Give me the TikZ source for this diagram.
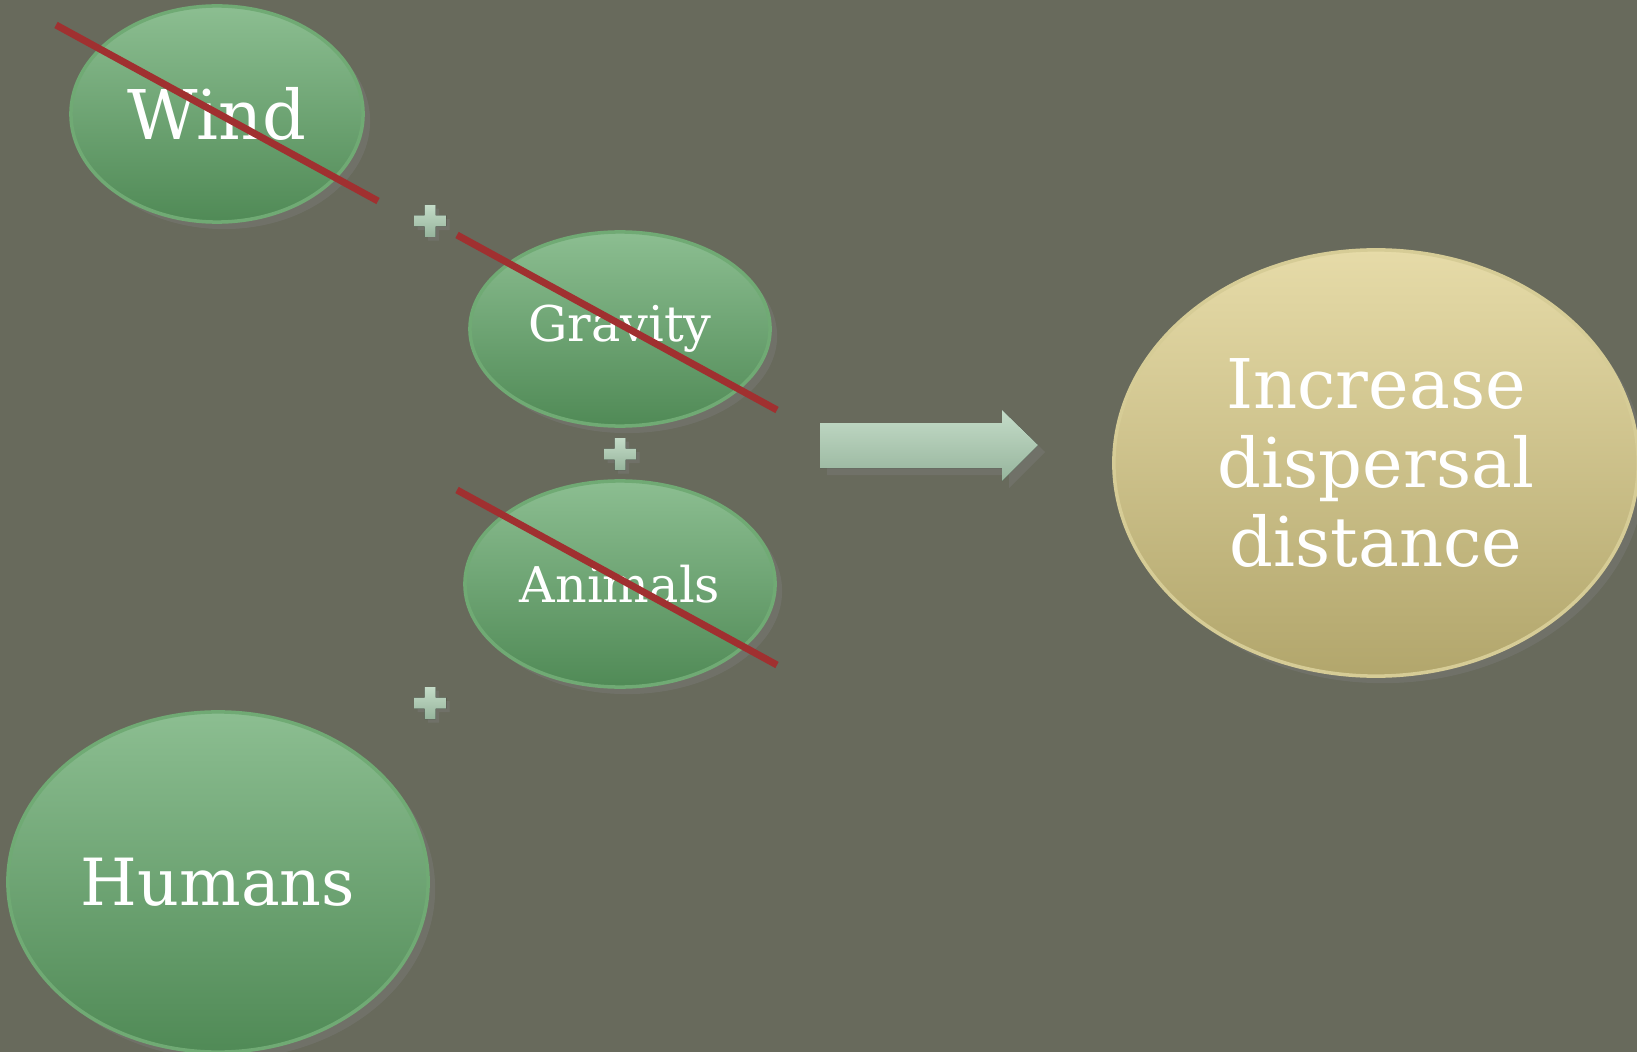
\documentclass[tikz,border=0pt]{standalone}
\usepackage{fontspec}
\setmainfont{DejaVu Serif}
\usetikzlibrary{shapes.geometric}
\usetikzlibrary{shadows}
\definecolor{mbg}{RGB}{104, 106, 92}
\definecolor{mgreentop}{RGB}{140, 190, 145}
\definecolor{mgreenbot}{RGB}{80, 138, 86}
\definecolor{mgreenrim}{RGB}{112, 170, 116}
\definecolor{mgoldtop}{RGB}{230, 219, 168}
\definecolor{mgoldbot}{RGB}{178, 166, 108}
\definecolor{mgoldrim}{RGB}{214, 204, 150}
\definecolor{mminttop}{RGB}{196, 220, 200}
\definecolor{mmintbot}{RGB}{150, 180, 156}
\definecolor{mred}{RGB}{160, 48, 48}
\tikzset{blob/.style = {ellipse, inner sep = 0, draw = mgreenrim, line width = 1pt,
    top color = mgreentop, bottom color = mgreenbot, text = white,
    drop shadow = {opacity = 0.35, shadow xshift = 2pt, shadow yshift = -2pt}}}
\tikzset{goldblob/.style = {blob, draw = mgoldrim, top color = mgoldtop, bottom color = mgoldbot}}
\tikzset{strike/.style = {mred, line width = 2pt}}
\tikzset{plussign/.pic = {
    \fill [top color = mminttop, bottom color = mmintbot,
      drop shadow = {opacity = 0.35, shadow xshift = 1pt, shadow yshift = -1pt}]
      (-5.5, -16) -- (5.5, -16) -- (5.5, -5.5) -- (16, -5.5) -- (16, 5.5) -- (5.5, 5.5)
      -- (5.5, 16) -- (-5.5, 16) -- (-5.5, 5.5) -- (-16, 5.5) -- (-16, -5.5) -- (-5.5, -5.5) -- cycle;
  }}

\begin{document}
\begin{tikzpicture}[x = 0.01cm, y = -0.01cm]
    \fill [mbg] (0, 0) rectangle (1637, 1052);
    \useasboundingbox (0, 0) rectangle (1637, 1052);

    \node [blob, minimum width = 2.92cm, minimum height = 2.16cm,
      font = \fontsize{19.5}{22}\selectfont] (wind) at (217, 114) {Wind};
    \node [blob, minimum width = 3.0cm, minimum height = 1.94cm,
      font = \fontsize{14}{16}\selectfont] (gravity) at (620, 329) {Gravity};
    \node [blob, minimum width = 3.1cm, minimum height = 2.06cm,
      font = \fontsize{14}{16}\selectfont] (animals) at (620, 584) {Animals};
    \node [blob, minimum width = 4.2cm, minimum height = 3.4cm,
      font = \fontsize{18.5}{22}\selectfont] (humans) at (218, 882) {Humans};
    \node [goldblob, minimum width = 5.24cm, minimum height = 4.26cm, align = center,
      font = \fontsize{19.5}{22.5}\selectfont] (distance) at (1376, 463)
      {Increase\\dispersal\\distance};

    \pic (plusa) at (430, 221) {plussign};
    \pic (plusb) at (620, 454) {plussign};
    \pic (plusc) at (430, 703) {plussign};

    % arrow towards the result
    \fill [top color = mminttop, bottom color = mmintbot,
      drop shadow = {opacity = 0.35, shadow xshift = 2pt, shadow yshift = -2pt}]
      (820, 423) -- (1002, 423) -- (1002, 410) -- (1038, 445)
      -- (1002, 481) -- (1002, 468) -- (820, 468) -- cycle;

    \draw [strike] (56, 25) -- (378, 201);
    \draw [strike] (457, 235) -- (777, 410);
    \draw [strike] (457, 490) -- (777, 665);
  \end{tikzpicture}
\end{document}
